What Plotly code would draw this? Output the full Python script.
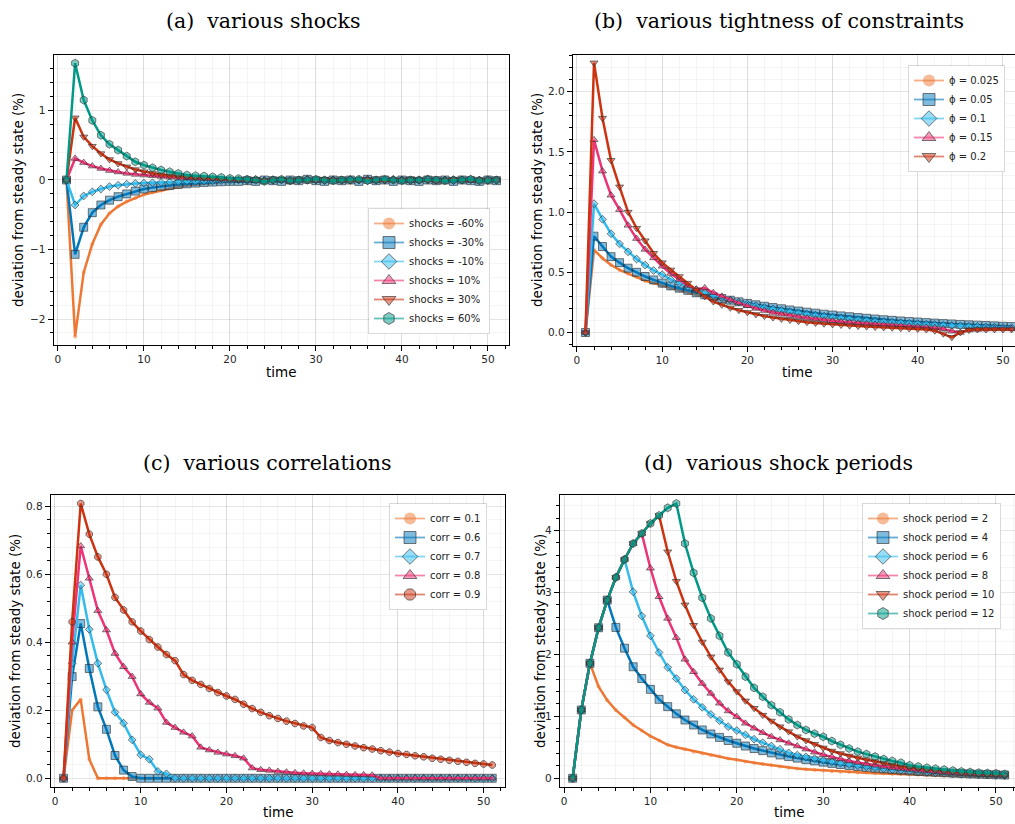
import plotly.graph_objects as go

# ---------------- data ----------------
t = list(range(1, 52))

# (a) various shocks
a_labels = ["shocks = -60%", "shocks = -30%", "shocks = -10%", "shocks = 10%", "shocks = 30%", "shocks = 60%"]
a_m60 = [0, -2.25, -1.33, -0.92, -0.64, -0.48, -0.38, -0.31, -0.26, -0.21,
         -0.18, -0.15, -0.12, -0.10, -0.08, -0.065, -0.05, -0.04, -0.03, -0.025,
         -0.02, -0.015, -0.01, -0.01, -0.005, 0.0, -0.01, 0.0, -0.01, 0.0,
         0.0, -0.01, 0.0, 0.01, -0.01, 0.0, -0.01, 0.0, 0.0, -0.01,
         0.0, 0.0, -0.01, 0.0, 0.01, 0.0, -0.01, 0.0, -0.01, 0.0,
         -0.01]
a_m30 = [0, -1.07, -0.68, -0.47, -0.36, -0.29, -0.24, -0.20, -0.16, -0.13,
         -0.11, -0.09, -0.08, -0.065, -0.055, -0.045, -0.035, -0.03, -0.025, -0.02,
         -0.02, -0.01, -0.02, 0.0, -0.01, -0.02, 0.0, -0.01, 0.01, -0.01,
         -0.02, 0.0, -0.01, 0.0, -0.02, 0.01, -0.01, 0.0, -0.02, 0.0,
         -0.01, -0.02, 0.0, -0.01, 0.0, -0.02, 0.0, -0.01, -0.02, 0.0,
         -0.01]
a_m10 = [0, -0.36, -0.23, -0.17, -0.13, -0.095, -0.076, -0.06, -0.05, -0.045,
         -0.04, -0.035, -0.03, -0.025, -0.02, -0.02, -0.015, -0.01, -0.01, -0.01,
         0.0, -0.01, 0.01, -0.01, 0.0, 0.0, -0.01, 0.0, 0.01, 0.0,
         -0.01, 0.0, 0.0, 0.01, 0.0, -0.01, 0.0, 0.0, 0.01, 0.0,
         -0.01, 0.0, 0.01, 0.0, 0.0, -0.01, 0.0, 0.01, 0.0, -0.01,
         0.0]
a_p10 = [0, 0.31, 0.25, 0.20, 0.165, 0.135, 0.115, 0.095, 0.08, 0.07,
         0.06, 0.05, 0.04, 0.035, 0.03, 0.025, 0.02, 0.015, 0.01, 0.01,
         0.0, 0.01, -0.01, 0.0, 0.01, 0.0, -0.02, 0.0, 0.01, -0.01,
         0.0, 0.01, -0.01, 0.0, 0.0, 0.02, -0.01, 0.0, 0.01, 0.0,
         -0.01, 0.0, 0.01, -0.02, 0.0, 0.01, 0.0, -0.01, 0.0, 0.01,
         0.0]
a_p30 = [0, 0.895, 0.62, 0.486, 0.38, 0.295, 0.238, 0.19, 0.15, 0.12,
         0.095, 0.076, 0.06, 0.05, 0.04, 0.03, 0.025, 0.02, 0.015, 0.01,
         0.01, 0.0, 0.01, -0.01, 0.0, 0.01, 0.0, 0.0, -0.01, 0.0,
         0.01, 0.0, 0.0, -0.01, 0.0, 0.01, 0.0, -0.01, 0.0, 0.0,
         0.01, 0.0, -0.01, 0.0, 0.0, 0.01, 0.0, 0.0, -0.01, 0.0,
         0.0]
a_p60 = [0, 1.68, 1.15, 0.857, 0.643, 0.514, 0.43, 0.343, 0.262, 0.214,
         0.176, 0.143, 0.119, 0.095, 0.072, 0.062, 0.057, 0.045, 0.038, 0.024,
         0.02, 0.01, 0.0, -0.02, 0.0, 0.01, -0.01, 0.0, 0.0, 0.01,
         0.0, -0.01, 0.0, 0.0, 0.01, -0.01, 0.0, 0.01, 0.0, -0.01,
         0.0, 0.0, 0.01, 0.0, -0.01, 0.0, 0.0, 0.01, -0.01, 0.0,
         0.0]

# (b) various tightness of constraints
b_labels = ["ϕ = 0.025", "ϕ = 0.05", "ϕ = 0.1", "ϕ = 0.15", "ϕ = 0.2"]
b_025 = [0, 0.686, 0.617, 0.56, 0.52, 0.487, 0.46, 0.43, 0.41, 0.387,
         0.368, 0.35, 0.33, 0.313, 0.30, 0.285, 0.27, 0.258, 0.245, 0.233,
         0.222, 0.21, 0.20, 0.19, 0.18, 0.172, 0.163, 0.155, 0.148, 0.14,
         0.133, 0.127, 0.12, 0.114, 0.108, 0.103, 0.098, 0.093, 0.088, 0.084,
         0.08, 0.076, 0.072, 0.068, 0.065, 0.062, 0.059, 0.056, 0.053, 0.05,
         0.048]
b_05 = [0, 0.80, 0.714, 0.63, 0.58, 0.534, 0.50, 0.465, 0.437, 0.41,
        0.387, 0.368, 0.35, 0.33, 0.313, 0.297, 0.282, 0.268, 0.255, 0.242,
        0.23, 0.218, 0.207, 0.197, 0.187, 0.178, 0.169, 0.16, 0.152, 0.145,
        0.138, 0.131, 0.124, 0.118, 0.112, 0.106, 0.101, 0.096, 0.091, 0.087,
        0.082, 0.078, 0.074, 0.071, 0.067, 0.064, 0.061, 0.058, 0.055, 0.052,
        0.05]
b_1 = [0, 1.07, 0.94, 0.82, 0.736, 0.67, 0.61, 0.56, 0.515, 0.48,
       0.44, 0.41, 0.38, 0.354, 0.33, 0.308, 0.288, 0.27, 0.253, 0.237,
       0.222, 0.208, 0.196, 0.184, 0.173, 0.163, 0.153, 0.144, 0.136, 0.128,
       0.121, 0.114, 0.108, 0.102, 0.096, 0.091, 0.086, 0.081, 0.077, 0.073,
       0.069, 0.065, 0.062, 0.058, 0.055, 0.052, 0.05, 0.047, 0.045, 0.042,
       0.04]
b_15 = [0, 1.60, 1.34, 1.14, 1.02, 0.89, 0.78, 0.69, 0.62, 0.55,
        0.49, 0.44, 0.39, 0.36, 0.37, 0.33, 0.30, 0.27, 0.245, 0.222,
        0.20, 0.182, 0.166, 0.152, 0.14, 0.13, 0.12, 0.111, 0.103, 0.096,
        0.09, 0.084, 0.078, 0.073, 0.068, 0.064, 0.06, 0.056, 0.052, 0.048,
        0.044, 0.04, 0.03, 0.01, 0.0, 0.02, 0.025, 0.028, 0.03, 0.03,
        0.03]
b_2 = [0, 2.24, 1.78, 1.43, 1.21, 1.00, 0.866, 0.763, 0.658, 0.58,
       0.52, 0.465, 0.41, 0.354, 0.30, 0.257, 0.23, 0.205, 0.185, 0.167,
       0.15, 0.136, 0.124, 0.113, 0.103, 0.094, 0.086, 0.079, 0.073, 0.067,
       0.062, 0.057, 0.053, 0.049, 0.045, 0.042, 0.039, 0.036, 0.033, 0.03,
       0.025, 0.015, -0.01, -0.04, 0.0, 0.02, 0.025, 0.025, 0.025, 0.025,
       0.025]

# (c) various correlations
c_labels = ["corr = 0.1", "corr = 0.6", "corr = 0.7", "corr = 0.8", "corr = 0.9"]
c_1 = [0, 0.20, 0.232, 0.056, 0, 0, 0, 0, 0, 0,
       0, 0, 0, 0, 0, 0, 0, 0, 0, 0,
       0, 0, 0, 0, 0, 0, 0, 0, 0, 0,
       0, 0, 0, 0, 0, 0, 0, 0, 0, 0,
       0, 0, 0, 0, 0, 0, 0, 0, 0, 0,
       0]
c_6 = [0, 0.299, 0.455, 0.323, 0.21, 0.144, 0.067, 0.024, 0.005, 0,
       0, 0, 0, 0, 0, 0, 0, 0, 0, 0,
       0, 0, 0, 0, 0, 0, 0, 0, 0, 0,
       0, 0, 0, 0, 0, 0, 0, 0, 0, 0,
       0, 0, 0, 0, 0, 0, 0, 0, 0, 0,
       0]
c_7 = [0, 0.338, 0.568, 0.438, 0.338, 0.26, 0.194, 0.162, 0.113, 0.069,
       0.056, 0.02, 0.013, 0, 0, 0, 0, 0, 0, 0,
       0, 0, 0, 0, 0, 0, 0, 0, 0, 0,
       0, 0, 0, 0, 0, 0, 0, 0, 0, 0,
       0, 0, 0, 0, 0, 0, 0, 0, 0, 0,
       0]
c_8 = [0, 0.40, 0.683, 0.588, 0.493, 0.436, 0.367, 0.328, 0.299, 0.248,
       0.223, 0.206, 0.164, 0.149, 0.135, 0.124, 0.091, 0.083, 0.076, 0.071,
       0.066, 0.059, 0.03, 0.025, 0.023, 0.02, 0.018, 0.016, 0.015, 0.014,
       0.013, 0.012, 0.012, 0.011, 0.01, 0.01, 0.009, 0, 0, 0,
       0, 0, 0, 0, 0, 0, 0, 0, 0, 0,
       0]
c_9 = [0, 0.46, 0.808, 0.718, 0.651, 0.60, 0.532, 0.495, 0.46, 0.433,
       0.408, 0.386, 0.364, 0.346, 0.305, 0.288, 0.276, 0.264, 0.252, 0.242,
       0.232, 0.218, 0.205, 0.194, 0.184, 0.176, 0.168, 0.161, 0.154, 0.149,
       0.12, 0.111, 0.105, 0.10, 0.095, 0.09, 0.086, 0.081, 0.077, 0.073,
       0.07, 0.066, 0.063, 0.059, 0.056, 0.053, 0.05, 0.047, 0.044, 0.042,
       0.039]

# (d) various shock periods
d_labels = ["shock period = 2", "shock period = 4", "shock period = 6",
            "shock period = 8", "shock period = 10", "shock period = 12"]
d_2 = [0, 1.102, 1.855, 1.48, 1.26, 1.10, 0.98, 0.86, 0.77, 0.68,
       0.61, 0.54, 0.50, 0.47, 0.43, 0.40, 0.37, 0.35, 0.32, 0.30,
       0.27, 0.25, 0.23, 0.21, 0.19, 0.17, 0.156, 0.145, 0.135, 0.125,
       0.115, 0.107, 0.10, 0.093, 0.087, 0.081, 0.075, 0.07, 0.065, 0.06,
       0.056, 0.052, 0.048, 0.044, 0.041, 0.038, 0.035, 0.032, 0.03, 0.028,
       0.026]
d_4 = [0, 1.102, 1.855, 2.43, 2.876, 2.435, 2.10, 1.80, 1.61, 1.435,
       1.274, 1.156, 1.04, 0.94, 0.86, 0.78, 0.715, 0.66, 0.61, 0.565,
       0.52, 0.48, 0.446, 0.41, 0.376, 0.35, 0.325, 0.30, 0.28, 0.26,
       0.24, 0.222, 0.205, 0.19, 0.176, 0.163, 0.151, 0.14, 0.13, 0.12,
       0.111, 0.103, 0.096, 0.089, 0.082, 0.076, 0.07, 0.065, 0.06, 0.056,
       0.052]
d_6 = [0, 1.102, 1.855, 2.43, 2.876, 3.242, 3.532, 3.01, 2.62, 2.30,
       2.03, 1.79, 1.61, 1.425, 1.274, 1.145, 1.03, 0.93, 0.833, 0.77,
       0.70, 0.63, 0.575, 0.52, 0.468, 0.41, 0.375, 0.345, 0.315, 0.29,
       0.265, 0.243, 0.222, 0.203, 0.186, 0.17, 0.155, 0.142, 0.13, 0.118,
       0.108, 0.099, 0.09, 0.082, 0.075, 0.068, 0.062, 0.057, 0.052, 0.047,
       0.043]
d_8 = [0, 1.102, 1.855, 2.43, 2.876, 3.242, 3.532, 3.79, 3.952, 3.39,
       2.93, 2.58, 2.27, 1.92, 1.72, 1.53, 1.37, 1.21, 1.086, 0.995,
       0.887, 0.806, 0.736, 0.672, 0.618, 0.565, 0.52, 0.47, 0.42, 0.38,
       0.345, 0.31, 0.28, 0.255, 0.23, 0.21, 0.19, 0.17, 0.155, 0.14,
       0.125, 0.115, 0.104, 0.094, 0.085, 0.077, 0.07, 0.063, 0.057, 0.052,
       0.047]
d_10 = [0, 1.102, 1.855, 2.43, 2.876, 3.242, 3.532, 3.79, 3.952, 4.113,
        4.242, 3.656, 3.18, 2.80, 2.47, 2.20, 1.96, 1.75, 1.56, 1.40,
        1.25, 1.13, 1.02, 0.925, 0.833, 0.753, 0.672, 0.61, 0.55, 0.49,
        0.44, 0.40, 0.36, 0.33, 0.30, 0.27, 0.245, 0.215, 0.19, 0.17,
        0.155, 0.14, 0.125, 0.11, 0.10, 0.09, 0.08, 0.072, 0.065, 0.058,
        0.052]
d_12 = [0, 1.102, 1.855, 2.43, 2.876, 3.242, 3.532, 3.79, 3.952, 4.113,
        4.242, 4.366, 4.435, 3.79, 3.317, 2.914, 2.58, 2.30, 2.03, 1.84,
        1.64, 1.46, 1.317, 1.18, 1.065, 0.95, 0.86, 0.78, 0.72, 0.67,
        0.60, 0.54, 0.48, 0.43, 0.39, 0.35, 0.31, 0.28, 0.25, 0.21,
        0.19, 0.17, 0.155, 0.14, 0.125, 0.11, 0.10, 0.09, 0.085, 0.08,
        0.07]

x_ticks = [0, 10, 20, 30, 40, 50]

# ---------------- styling ----------------
W, H = 1015, 824
COLORS = ["#EE7733", "#0077BB", "#33BBEE", "#EE3377", "#CC3311", "#009988"]
SYMBOLS = ["circle", "square", "diamond", "triangle-up", "triangle-down", "hexagon"]
SIZES = [4, 8, 6, 7, 7, 8]


def rgba(hexc, a):
    h = hexc.lstrip("#")
    return "rgba(%d,%d,%d,%.2f)" % (int(h[0:2], 16), int(h[2:4], 16), int(h[4:6], 16), a)


def fx(p):
    return p / W


def fy(p):
    return 1 - p / H


panels = [
    dict(title="(a)  various shocks", labels=a_labels, series=[a_m60, a_m30, a_m10, a_p10, a_p30, a_p60],
         sym=SYMBOLS, xdom=(53.6, 509.4), xr=(-0.5, 52.5), ydom=(55.0, 344.6), yr=(-2.368, 1.798),
         dtick=1, mdtick=0.2, fmt="", tcx=263, tcy=21, xlab=(281, 372), ylab=(18, 200),
         leg=dict(x=fx(368), y=fy(334), xanchor="left", yanchor="bottom")),
    dict(title="(b)  various tightness of constraints", labels=b_labels, series=[b_025, b_05, b_1, b_15, b_2],
         sym=SYMBOLS, xdom=(572.7, 1015), xr=(-0.5, 51.41), ydom=(54.6, 345.5), yr=(-0.108, 2.308),
         dtick=0.5, mdtick=0.1, fmt=".1f", tcx=779, tcy=21, xlab=(797, 372), ylab=(537, 200),
         leg=dict(x=fx(908), y=fy(65), xanchor="left", yanchor="top")),
    dict(title="(c)  various correlations", labels=c_labels, series=[c_1, c_6, c_7, c_8, c_9],
         sym=["circle", "square", "diamond", "triangle-up", "octagon"], xdom=(50.7, 505.1), xr=(-0.5, 52.5),
         ydom=(495.3, 786.5), yr=(-0.0242, 0.8322),
         dtick=0.2, mdtick=0.04, fmt=".1f", tcx=267, tcy=463, xlab=(278, 812), ylab=(15, 641),
         leg=dict(x=fx(389), y=fy(503), xanchor="left", yanchor="top")),
    dict(title="(d)  various shock periods", labels=d_labels, series=[d_2, d_4, d_6, d_8, d_10, d_12],
         sym=SYMBOLS, xdom=(559.7, 1015), xr=(-0.5, 52.2), ydom=(495.3, 786.5), yr=(-0.133, 4.568),
         dtick=1, mdtick=0.2, fmt="", tcx=778, tcy=463, xlab=(789, 812), ylab=(540, 641),
         leg=dict(x=fx(862), y=fy(503), xanchor="left", yanchor="top")),
]

for p in panels:
    for s in p["series"]:
        assert len(s) == len(t), (p["title"], len(s))

fig = go.Figure()
annotations = []
layout = dict(width=W, height=H, margin=dict(l=0, r=0, t=0, b=0),
              paper_bgcolor="white", plot_bgcolor="white", showlegend=True)

TICKFONT = dict(family="DejaVu Sans", size=10.5, color="#262626")

for i, p in enumerate(panels):
    n = i + 1
    xa = "x" if n == 1 else "x%d" % n
    ya = "y" if n == 1 else "y%d" % n
    lg = "legend" if n == 1 else "legend%d" % n
    for k, (lab, s) in enumerate(zip(p["labels"], p["series"])):
        col = COLORS[k]
        mline = dict(width=0) if k == 0 else dict(color="rgba(40,40,40,0.6)", width=1)
        fig.add_trace(go.Scatter(
            x=t, y=s, mode="lines+markers", xaxis=xa, yaxis=ya, showlegend=False,
            line=dict(color=col, width=2.5),
            marker=dict(symbol=p["sym"][k], size=SIZES[k], color=rgba(col, 0.5), line=mline),
            hoverinfo="skip"))
    for k, lab in enumerate(p["labels"]):
        col = COLORS[k]
        mline = dict(width=0) if k == 0 else dict(color="rgba(40,40,40,0.6)", width=1)
        fig.add_trace(go.Scatter(
            x=[None], y=[None], mode="lines+markers", xaxis=xa, yaxis=ya, name=lab,
            legend=lg, showlegend=True,
            line=dict(color=rgba(col, 0.6), width=1.8),
            marker=dict(symbol=p["sym"][k], size=12, color=rgba(col, 0.5), line=mline)))

    common = dict(showline=True, mirror=True, linecolor="black", linewidth=1,
                  showgrid=True, gridcolor="rgba(0,0,0,0.10)", gridwidth=1,
                  zeroline=False, ticks="outside", ticklen=5, tickwidth=1, tickcolor="black",
                  tickfont=TICKFONT, fixedrange=True)
    layout["xaxis" if n == 1 else "xaxis%d" % n] = dict(
        common, domain=[fx(p["xdom"][0]), fx(p["xdom"][1])], range=list(p["xr"]),
        anchor=ya, tickmode="array", tickvals=x_ticks, ticktext=[str(v) for v in x_ticks],
        minor=dict(dtick=2, tick0=0, showgrid=True, gridcolor="rgba(0,0,0,0.04)",
                   ticks="outside", ticklen=3, tickcolor="black"))
    layout["yaxis" if n == 1 else "yaxis%d" % n] = dict(
        common, domain=[fy(p["ydom"][1]), fy(p["ydom"][0])], range=list(p["yr"]),
        anchor=xa, dtick=p["dtick"], tick0=0, tickformat=p["fmt"],
        minor=dict(dtick=p["mdtick"], tick0=0, showgrid=True, gridcolor="rgba(0,0,0,0.04)",
                   ticks="outside", ticklen=3, tickcolor="black"))
    layout[lg] = dict(p["leg"], bgcolor="white", bordercolor="rgba(0,0,0,0.15)", borderwidth=1,
                      font=dict(family="DejaVu Sans", size=10, color="#222"),
                      itemsizing="trace", tracegroupgap=0)

    annotations.append(dict(text=p["title"], x=fx(p["tcx"]), y=fy(p["tcy"]), xref="paper", yref="paper",
                            xanchor="center", yanchor="middle", showarrow=False,
                            font=dict(family="DejaVu Serif", size=20.5, color="black")))
    annotations.append(dict(text="time", x=fx(p["xlab"][0]), y=fy(p["xlab"][1]), xref="paper", yref="paper",
                            xanchor="center", yanchor="middle", showarrow=False,
                            font=dict(family="DejaVu Sans", size=13.5, color="black")))
    annotations.append(dict(text="deviation from steady state (%)", x=fx(p["ylab"][0]), y=fy(p["ylab"][1]),
                            xref="paper", yref="paper", xanchor="center", yanchor="middle",
                            showarrow=False, textangle=-90,
                            font=dict(family="DejaVu Sans", size=13.5, color="black")))

layout["annotations"] = annotations
fig.update_layout(**layout)
fig.write_html("out.html", config={"displayModeBar": False, "staticPlot": True},
               post_script="document.body.style.margin='0';document.body.style.overflow='hidden';")
